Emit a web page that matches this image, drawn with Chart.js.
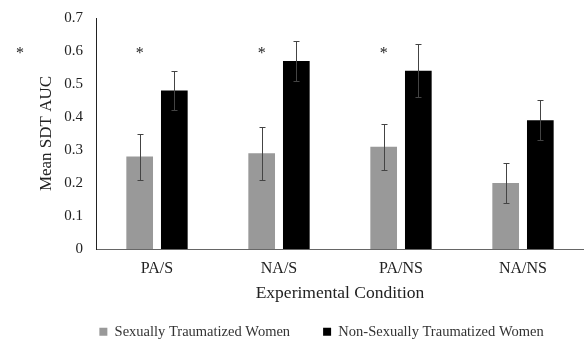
<!DOCTYPE html>
<html>
<head>
<meta charset="utf-8">
<script src="https://cdn.jsdelivr.net/npm/chart.js@4.4.0/dist/chart.umd.min.js"></script>
<style>
  html, body { margin: 0; padding: 0; background: #fff; }
  #wrap { width: 584px; height: 342px; }
</style>
</head>
<body>
<div id="wrap"><canvas id="grafico"></canvas></div>
<script>
var categorias = ['PA/S', 'NA/S', 'PA/NS', 'NA/NS']
var traumatizadas = [0.28, 0.29, 0.31, 0.20]
var naoTraumatizadas = [0.48, 0.57, 0.54, 0.39]
// limites das barras de erro
var errTraumInf = [0.21, 0.21, 0.24, 0.14]
var errTraumSup = [0.35, 0.37, 0.38, 0.26]
var errNaoInf = [0.42, 0.51, 0.46, 0.33]
var errNaoSup = [0.54, 0.63, 0.62, 0.45]
var asteriscos = ['*', '*', '*', '']
var yTicks = ['0', '0.1', '0.2', '0.3', '0.4', '0.5', '0.6', '0.7']

var fonte = "'Liberation Serif', 'Times New Roman', serif"

var barrasErro = {
    id: 'barrasErro',
    afterDatasetsDraw(chart) {
        var ctx = chart.ctx
        var y = chart.scales.y
        var limites = [[errTraumInf, errTraumSup], [errNaoInf, errNaoSup]]
        ctx.save()
        ctx.strokeStyle = '#444'
        ctx.lineWidth = 1
        limites.forEach((lim, d) => {
            chart.getDatasetMeta(d).data.forEach((bar, i) => {
                var x = Math.round(bar.x) + 0.5
                var y1 = Math.round(y.getPixelForValue(lim[0][i])) + 0.5
                var y2 = Math.round(y.getPixelForValue(lim[1][i])) + 0.5
                ctx.beginPath()
                ctx.moveTo(x, y1); ctx.lineTo(x, y2)
                ctx.moveTo(x - 3, y1); ctx.lineTo(x + 3, y1)
                ctx.moveTo(x - 3, y2); ctx.lineTo(x + 3, y2)
                ctx.stroke()
            })
        })
        // asteriscos
        ctx.fillStyle = '#222'
        ctx.font = '16px ' + fonte
        ctx.textAlign = 'center'
        ctx.textBaseline = 'middle'
        var yA = y.getPixelForValue(0.6) + 2.5
        chart.getDatasetMeta(0).data.forEach((bar, i) => {
            if (asteriscos[i]) ctx.fillText(asteriscos[i], bar.x, yA)
        })
        ctx.fillText('*', 20, yA)
        ctx.restore()
    }
}

var ctxGrafico = document.querySelector('#grafico')
new Chart(ctxGrafico, {
    type: 'bar',
    data: {
        labels: categorias,
        datasets: [
            {
                label: 'Sexually Traumatized Women',
                data: traumatizadas,
                backgroundColor: '#999999',
                barPercentage: 0.77,
                categoryPercentage: 0.568
            },
            {
                label: 'Non-Sexually Traumatized Women',
                data: naoTraumatizadas,
                backgroundColor: '#000000',
                barPercentage: 0.77,
                categoryPercentage: 0.568
            }
        ]
    },
    options: {
        responsive: true,
        maintainAspectRatio: false,
        animation: false,
        layout: { padding: { top: 18, left: 54, right: -5, bottom: -7 } },
        plugins: {
            legend: {
                position: 'bottom',
                labels: {
                    boxWidth: 8,
                    boxHeight: 8,
                    padding: 33,
                    color: '#333',
                    font: { family: fonte, size: 14.5 }
                }
            },
            tooltip: { enabled: false }
        },
        scales: {
            x: {
                grid: { display: false, drawTicks: false },
                border: { color: '#666', width: 1 },
                ticks: { color: '#222', font: { family: fonte, size: 16 }, padding: 10 },
                title: {
                    display: true,
                    text: 'Experimental Condition',
                    color: '#222',
                    font: { family: fonte, size: 17.5 },
                    padding: { top: -5.7, bottom: -12 }
                }
            },
            y: {
                min: 0,
                max: 0.7,
                afterFit: (scale) => { scale.width = 42; scale.paddingTop = 0 },
                grid: { display: false, drawTicks: false },
                border: { color: '#222', width: 1 },
                ticks: {
                    stepSize: 0.1,
                    color: '#222',
                    padding: 13,
                    font: { family: fonte, size: 15 },
                    callback: (v, i) => yTicks[i]
                },
                title: {
                    display: true,
                    text: 'Mean SDT AUC',
                    color: '#222',
                    font: { family: fonte, size: 17 },
                    padding: { top: -17.2, bottom: 0 }
                }
            }
        }
    },
    plugins: [barrasErro]
})
</script>
</body>
</html>
